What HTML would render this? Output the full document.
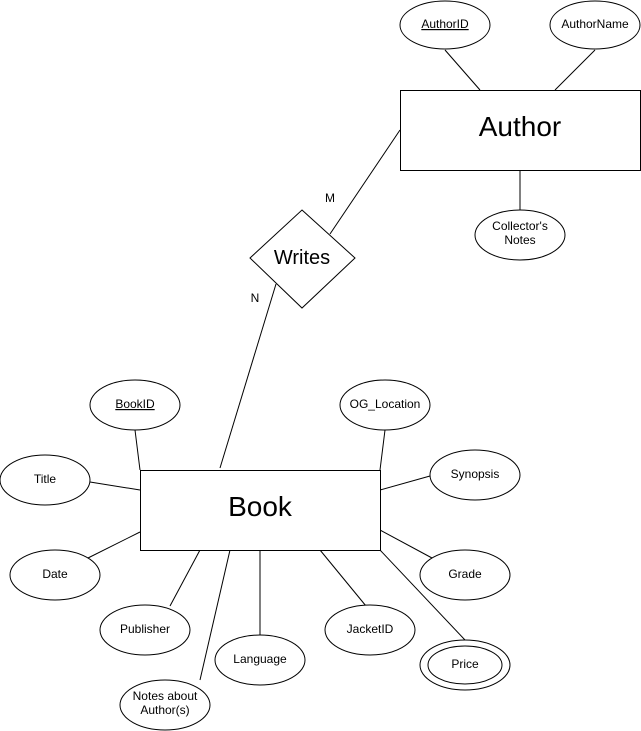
<!DOCTYPE html>
<html><head><meta charset="utf-8"><style>html,body{margin:0;padding:0;background:#fff}svg{display:block}</style></head>
<body>
<svg width="641" height="731" viewBox="0 0 641 731" xmlns="http://www.w3.org/2000/svg" font-family="Liberation Sans, Arial, sans-serif">
<g stroke="#000" stroke-width="1" fill="none">
<line x1="445" y1="50" x2="480" y2="90"/>
<line x1="595" y1="50" x2="555" y2="90"/>
<line x1="520" y1="170" x2="520" y2="210"/>
<line x1="400" y1="130" x2="330" y2="234"/>
<line x1="276" y1="284" x2="220" y2="468"/>
<line x1="135" y1="430" x2="140" y2="470"/>
<line x1="385" y1="430" x2="380" y2="470"/>
<line x1="90" y1="482" x2="140" y2="490"/>
<line x1="430" y1="476" x2="380" y2="490"/>
<line x1="88" y1="558" x2="140" y2="532"/>
<line x1="432" y1="558" x2="380" y2="530"/>
<line x1="170" y1="606" x2="200" y2="550"/>
<line x1="260" y1="635" x2="260" y2="550"/>
<line x1="366" y1="606" x2="320" y2="550"/>
<line x1="465" y1="640" x2="380" y2="550"/>
<line x1="200" y1="680" x2="230" y2="550"/>
</g>
<g stroke="#000" stroke-width="1" fill="#fff">
<ellipse cx="445" cy="25" rx="45" ry="24"/>
<ellipse cx="595" cy="25" rx="45" ry="24"/>
<rect x="400.5" y="90.5" width="240" height="80"/>
<ellipse cx="520" cy="235" rx="45" ry="25"/>
<polygon points="302,210 355,258 302,308 250,258"/>
<rect x="140.5" y="470.5" width="240" height="80"/>
<ellipse cx="135" cy="405" rx="45" ry="25"/>
<ellipse cx="385" cy="405" rx="45" ry="25"/>
<ellipse cx="45" cy="480" rx="45" ry="25"/>
<ellipse cx="475" cy="475" rx="45" ry="25"/>
<ellipse cx="55" cy="575" rx="45" ry="25"/>
<ellipse cx="465" cy="575" rx="45" ry="25"/>
<ellipse cx="145" cy="630" rx="45" ry="25"/>
<ellipse cx="260" cy="660" rx="45" ry="25"/>
<ellipse cx="370" cy="630" rx="45" ry="25"/>
<ellipse cx="465" cy="665" rx="45" ry="25"/>
<ellipse cx="465" cy="665" rx="37" ry="19"/>
<ellipse cx="165" cy="705" rx="45" ry="25"/>
</g>
<g fill="#000" font-size="12" text-anchor="middle">
<text x="445" y="28" text-decoration="underline">AuthorID</text>
<text x="595" y="28">AuthorName</text>
<text x="520" y="230">Collector's</text>
<text x="520" y="244">Notes</text>
<text x="135" y="408" text-decoration="underline">BookID</text>
<text x="385" y="408">OG_Location</text>
<text x="45" y="483">Title</text>
<text x="475" y="478">Synopsis</text>
<text x="55" y="578">Date</text>
<text x="465" y="578">Grade</text>
<text x="145" y="633">Publisher</text>
<text x="260" y="663">Language</text>
<text x="370" y="633">JacketID</text>
<text x="465" y="668">Price</text>
<text x="165" y="700">Notes about</text>
<text x="165" y="714">Author(s)</text>
<text x="330" y="202">M</text>
<text x="255" y="302">N</text>
<text x="302" y="264" font-size="20">Writes</text>
<text x="520" y="136" font-size="28">Author</text>
<text x="260" y="516" font-size="28">Book</text>
</g>
</svg>
</body></html>
